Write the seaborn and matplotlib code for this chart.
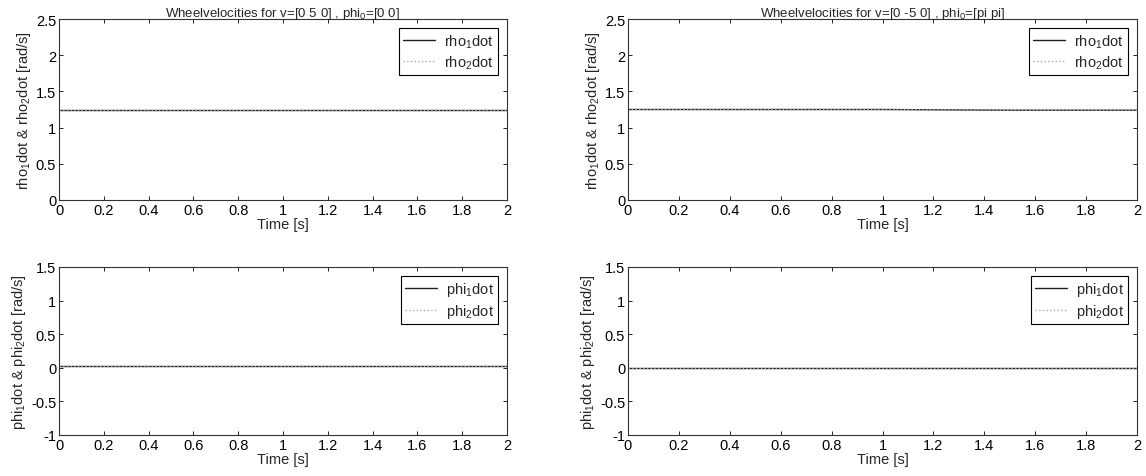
import matplotlib
matplotlib.use("Agg")
import matplotlib.pyplot as plt
import seaborn as sns
import pandas as pd

sns.set_style("ticks")
plt.rcParams['font.family'] = ['Liberation Sans', 'DejaVu Sans']
plt.rcParams['mathtext.default'] = 'regular'
plt.rcParams['mathtext.fontset'] = 'custom'
plt.rcParams['mathtext.rm'] = 'Liberation Sans'

# Data
time = [0.0, 0.5, 1.0, 1.5, 2.0]
rho1_left = [1.25, 1.25, 1.25, 1.25, 1.25]
rho2_left = [1.25, 1.25, 1.25, 1.25, 1.25]
phi1_left = [0.02, 0.02, 0.02, 0.02, 0.02]
phi2_left = [0.02, 0.02, 0.02, 0.02, 0.02]
rho1_right = [1.25, 1.25, 1.25, 1.24, 1.24]
rho2_right = [1.25, 1.25, 1.25, 1.24, 1.24]
phi1_right = [0.0, 0.0, 0.0, 0.0, 0.0]
phi2_right = [0.0, 0.0, 0.0, 0.0, 0.0]

titles = ["Wheelvelocities for v=[0 5 0] , phi$_0$=[0 0]",
          "Wheelvelocities for v=[0 -5 0] , phi$_0$=[pi pi]"]
xticks = [0, 0.2, 0.4, 0.6, 0.8, 1, 1.2, 1.4, 1.6, 1.8, 2]
xtick_labels = ["0", "0.2", "0.4", "0.6", "0.8", "1", "1.2", "1.4", "1.6", "1.8", "2"]
rho_yticks = [0, 0.5, 1, 1.5, 2, 2.5]
rho_ylabels = ["0", "0.5", "1", "1.5", "2", "2.5"]
phi_yticks = [-1, -0.5, 0, 0.5, 1, 1.5]
phi_ylabels = ["-1", "-0.5", "0", "0.5", "1", "1.5"]

fig = plt.figure(figsize=(11.46, 4.77), dpi=100)
W, H = 1146, 477
def ax_at(l, t, r, b):
    return fig.add_axes([l / W, 1 - b / H, (r - l) / W, (b - t) / H])

axes = {
    (0, 0): ax_at(59, 20, 507, 201),
    (0, 1): ax_at(628, 20, 1137, 201),
    (1, 0): ax_at(59, 268, 507, 436),
    (1, 1): ax_at(628, 268, 1137, 436),
}

panels = [
    ((0, 0), rho1_left, rho2_left, "rho", titles[0]),
    ((0, 1), rho1_right, rho2_right, "rho", titles[1]),
    ((1, 0), phi1_left, phi2_left, "phi", None),
    ((1, 1), phi1_right, phi2_right, "phi", None),
]

fs = 10.5
for key, s1, s2, name, title in panels:
    ax = axes[key]
    df = pd.DataFrame({"t": time, "s1": s1, "s2": s2})
    sns.lineplot(data=df, x="t", y="s1", ax=ax, color="#222222", lw=1.0,
                 label=f"{name}$_1$dot")
    sns.lineplot(data=df, x="t", y="s2", ax=ax, color="#aaaaaa", lw=1.0,
                 linestyle=":", label=f"{name}$_2$dot")
    ax.set_xlim(0, 2)
    ax.set_xticks(xticks)
    ax.set_xticklabels(xtick_labels, fontsize=fs)
    if name == "rho":
        ax.set_ylim(0, 2.5)
        ax.set_yticks(rho_yticks)
        ax.set_yticklabels(rho_ylabels, fontsize=fs)
    else:
        ax.set_ylim(-1, 1.5)
        ax.set_yticks(phi_yticks)
        ax.set_yticklabels(phi_ylabels, fontsize=fs)
    ax.set_xlabel("Time [s]", fontsize=fs, labelpad=0)
    ax.set_ylabel(f"{name}$_1$dot & {name}$_2$dot [rad/s]", fontsize=fs, labelpad=2)
    if title:
        ax.set_title(title, fontsize=9.5, pad=2)
    ax.tick_params(direction="in", top=True, right=True, length=3, width=0.6,
                   pad=2, colors="black")
    for sp in ax.spines.values():
        sp.set_visible(True)
        sp.set_color("#333333")
        sp.set_linewidth(0.8)
    leg = ax.legend(loc="upper right", fontsize=fs, frameon=True, fancybox=False,
                    edgecolor="black", framealpha=1, handlelength=2.2,
                    borderaxespad=0.6, labelspacing=0.25, borderpad=0.3,
                    handletextpad=0.6)
    leg.get_frame().set_linewidth(0.8)

fig.savefig("out.png", dpi=100)
